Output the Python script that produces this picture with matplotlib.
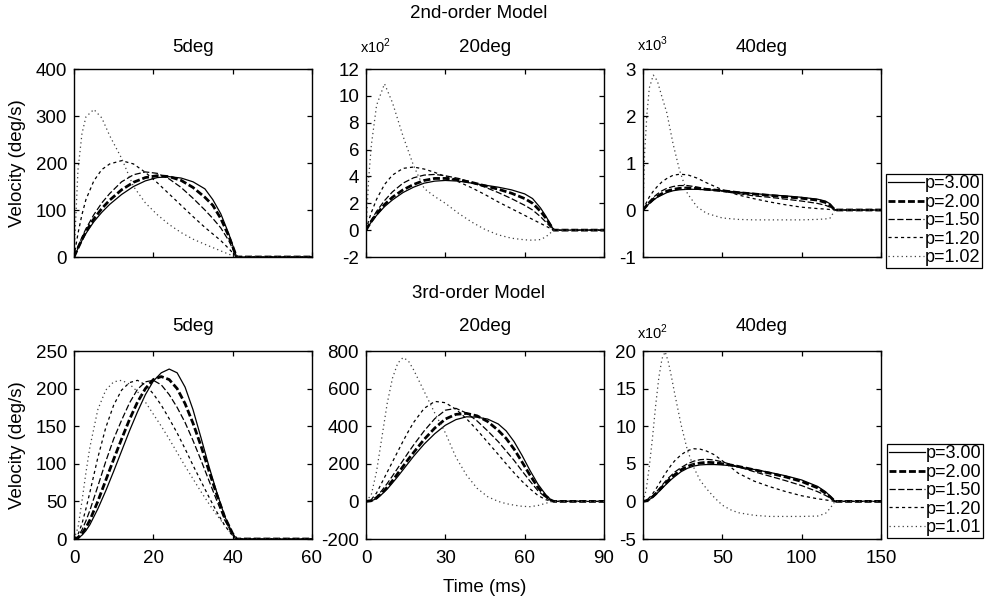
import matplotlib
matplotlib.use('Agg')
import matplotlib.pyplot as plt

plt.rcParams['font.family'] = ['Liberation Sans', 'DejaVu Sans']
plt.rcParams['axes.unicode_minus'] = False

W, H = 986, 605

labels_2nd = ['p=3.00', 'p=2.00', 'p=1.50', 'p=1.20', 'p=1.02']
labels_3rd = ['p=3.00', 'p=2.00', 'p=1.50', 'p=1.20', 'p=1.01']

# 2nd-order, 5deg (deg/s)
t_a = [0, 1, 2, 3, 5, 7, 9, 12, 15, 18, 21, 24, 27, 30, 33, 35, 37, 39, 41, 60]
a_p300 = [0, 18, 35, 50, 75, 95, 112, 133, 150, 162, 169, 171, 168, 160, 145, 122, 92, 50, 0, 0]
a_p200 = [0, 19, 37, 54, 81, 103, 121, 143, 159, 169, 173, 171, 163, 148, 127, 110, 82, 45, 0, 0]
a_p150 = [0, 22, 42, 60, 90, 115, 135, 160, 175, 181, 178, 166, 148, 125, 100, 82, 62, 35, 0, 0]
a_p120 = [0, 50, 90, 122, 162, 186, 198, 205, 198, 180, 158, 134, 110, 86, 63, 49, 35, 18, 0, 0]
a_p102 = [0, 185, 262, 298, 314, 296, 258, 210, 150, 115, 90, 69, 52, 38, 27, 20, 13, 6, 0, 0]

# 2nd-order, 20deg (x10^2 deg/s)
t_b = [0, 1, 2, 4, 7, 10, 14, 18, 22, 26, 30, 35, 40, 45, 50, 55, 60, 63, 66, 68, 71, 90]
b_p300 = [0, 0.32, 0.6, 1.1, 1.75, 2.25, 2.8, 3.2, 3.5, 3.65, 3.7, 3.65, 3.5, 3.35, 3.2, 3.0, 2.7, 2.35, 1.65, 1.05, 0, 0]
b_p200 = [0, 0.34, 0.65, 1.2, 1.9, 2.45, 3.0, 3.4, 3.7, 3.85, 3.85, 3.75, 3.55, 3.3, 3.05, 2.75, 2.35, 2.0, 1.4, 0.9, 0, 0]
b_p150 = [0, 0.4, 0.75, 1.4, 2.2, 2.85, 3.5, 3.9, 4.1, 4.15, 4.05, 3.85, 3.55, 3.2, 2.8, 2.35, 1.85, 1.5, 1.0, 0.6, 0, 0]
b_p120 = [0, 0.7, 1.3, 2.3, 3.4, 4.1, 4.6, 4.7, 4.55, 4.3, 4.0, 3.6, 3.15, 2.65, 2.1, 1.6, 1.1, 0.8, 0.5, 0.3, 0, 0]
b_p102 = [0, 3.8, 6.3, 9.3, 10.9, 9.5, 7.0, 4.8, 3.1, 2.5, 2.0, 1.25, 0.6, 0.05, -0.35, -0.6, -0.72, -0.75, -0.7, -0.5, 0, 0]

# 2nd-order, 40deg (x10^3 deg/s)
t_c = [0, 1, 2.5, 4, 6.5, 9, 12, 15, 19, 23, 28, 34, 40, 50, 60, 70, 80, 90, 100, 110, 115, 118, 121, 150]
c_p300 = [0, 0.04, 0.09, 0.14, 0.21, 0.27, 0.32, 0.37, 0.41, 0.43, 0.44, 0.44, 0.43, 0.41, 0.38, 0.35, 0.32, 0.3, 0.27, 0.23, 0.19, 0.13, 0, 0]
c_p200 = [0, 0.04, 0.1, 0.15, 0.23, 0.29, 0.35, 0.4, 0.44, 0.46, 0.47, 0.46, 0.44, 0.41, 0.37, 0.34, 0.31, 0.28, 0.25, 0.21, 0.16, 0.1, 0, 0]
c_p150 = [0, 0.05, 0.12, 0.18, 0.27, 0.34, 0.41, 0.46, 0.5, 0.52, 0.52, 0.49, 0.45, 0.4, 0.35, 0.3, 0.27, 0.23, 0.19, 0.14, 0.1, 0.06, 0, 0]
c_p120 = [0, 0.08, 0.18, 0.28, 0.4, 0.5, 0.6, 0.67, 0.74, 0.76, 0.75, 0.68, 0.58, 0.43, 0.32, 0.24, 0.17, 0.11, 0.06, 0.03, 0.02, 0.01, 0, 0]
c_p102 = [0, 1.2, 2.05, 2.6, 2.87, 2.75, 2.4, 2.07, 1.4, 0.85, 0.35, 0.07, -0.07, -0.17, -0.2, -0.21, -0.21, -0.21, -0.21, -0.2, -0.19, -0.17, 0, 0]

# 3rd-order, 5deg (deg/s)
t_d = [0, 1, 2, 3, 4, 6, 8, 10, 12, 14, 16, 18, 20, 22, 24, 26, 28, 30, 32, 34, 36, 38, 40, 41, 60]
d_p300 = [0, 1, 5, 11, 19, 40, 64, 90, 117, 144, 169, 192, 210, 221, 226, 221, 202, 172, 135, 97, 62, 30, 7, 0, 0]
d_p200 = [0, 1.5, 7, 15, 25, 50, 78, 106, 133, 159, 182, 200, 212, 216, 212, 200, 180, 154, 124, 91, 59, 29, 7, 0, 0]
d_p150 = [0, 3, 12, 24, 38, 70, 103, 133, 158, 181, 199, 209, 211, 205, 192, 175, 155, 131, 105, 78, 51, 25, 6, 0, 0]
d_p120 = [0, 6, 20, 40, 62, 108, 148, 178, 198, 208, 211, 205, 193, 178, 160, 141, 120, 98, 77, 56, 36, 18, 4, 0, 0]
d_p101 = [0, 15, 50, 88, 122, 172, 198, 209, 211, 206, 196, 182, 166, 150, 133, 115, 97, 80, 63, 47, 32, 18, 5, 0, 0]

# 3rd-order, 20deg (deg/s)
t_e = [0, 2, 4, 6, 8, 10, 12, 14, 16, 18, 22, 26, 30, 34, 38, 42, 46, 50, 53, 56, 59, 62, 65, 68, 70, 71, 90]
e_p300 = [0, 3, 15, 38, 65, 98, 132, 168, 204, 240, 305, 360, 405, 435, 450, 448, 438, 412, 375, 318, 245, 165, 92, 35, 8, 0, 0]
e_p200 = [0, 4, 18, 44, 75, 110, 148, 186, 224, 260, 330, 390, 438, 463, 468, 455, 425, 378, 335, 278, 210, 140, 75, 27, 6, 0, 0]
e_p150 = [0, 6, 25, 58, 95, 135, 177, 218, 260, 300, 375, 440, 485, 495, 470, 428, 375, 318, 268, 218, 162, 108, 57, 20, 4, 0, 0]
e_p120 = [0, 10, 45, 100, 155, 210, 265, 320, 372, 420, 495, 532, 525, 490, 440, 380, 315, 250, 200, 152, 107, 67, 32, 9, 2, 0, 0]
e_p101 = [0, 35, 160, 340, 520, 655, 735, 765, 748, 700, 585, 470, 365, 235, 140, 70, 25, 0, -12, -20, -26, -28, -22, -10, -2, 0, 0]

# 3rd-order, 40deg (x10^2 deg/s)
t_f = [0, 2, 4, 6, 8, 10, 12, 14, 16, 18, 20, 24, 28, 32, 36, 40, 45, 50, 55, 60, 70, 80, 90, 100, 110, 115, 118, 121, 150]
f_p300 = [0, 0.06, 0.25, 0.52, 0.88, 1.3, 1.72, 2.15, 2.55, 2.95, 3.3, 3.95, 4.4, 4.7, 4.85, 4.9, 4.9, 4.85, 4.75, 4.6, 4.25, 3.85, 3.4, 2.85, 2.0, 1.3, 0.7, 0, 0]
f_p200 = [0, 0.08, 0.3, 0.6, 1.0, 1.45, 1.9, 2.35, 2.8, 3.2, 3.55, 4.2, 4.65, 4.95, 5.1, 5.2, 5.15, 5.0, 4.85, 4.65, 4.2, 3.75, 3.25, 2.65, 1.8, 1.1, 0.6, 0, 0]
f_p150 = [0, 0.1, 0.35, 0.7, 1.15, 1.65, 2.15, 2.65, 3.1, 3.5, 3.9, 4.5, 5.0, 5.35, 5.55, 5.6, 5.5, 5.25, 4.95, 4.6, 3.95, 3.35, 2.75, 2.1, 1.3, 0.8, 0.45, 0, 0]
f_p120 = [0, 0.15, 0.5, 1.0, 1.6, 2.3, 3.0, 3.7, 4.3, 4.9, 5.4, 6.2, 6.75, 7.0, 6.95, 6.7, 6.2, 5.4, 4.6, 3.75, 2.7, 1.95, 1.3, 0.75, 0.35, 0.2, 0.1, 0, 0]
f_p101 = [0, 1.5, 4.7, 8.5, 12.8, 16.5, 19.0, 19.9, 18.5, 16.5, 14.3, 10.2, 6.8, 4.5, 2.8, 1.7, 0.5, -0.5, -1.1, -1.5, -1.85, -2.0, -2.0, -2.0, -1.95, -1.6, -0.9, 0, 0]

styles = [
    dict(color='k', lw=0.9, ls='-'),
    dict(color='k', lw=2.0, ls=(0, (2.5, 1.0))),
    dict(color='k', lw=0.9, ls=(0, (5, 2))),
    dict(color='k', lw=0.9, ls=(0, (2.5, 2.5))),
    dict(color='0.25', lw=0.9, ls=(0, (1, 2.5))),
]

FS = 13.5


def fx(x):
    return x / W


def fy(y):
    return 1 - y / H


def panel(x0, y0, t, curves, labels, xlim, xticks, ylim, yticks, show_x):
    ax = fig.add_axes([fx(x0), fy(y0 + 188), fx(238), 188 / H])
    lines = []
    for v, st, lab in zip(curves, styles, labels):
        ln, = ax.plot(t, v, label=lab, **st)
        lines.append(ln)
    ax.set_xlim(*xlim)
    ax.set_ylim(*ylim)
    ax.set_xticks(xticks)
    ax.set_yticks(yticks)
    ax.tick_params(direction='in', top=True, right=True, length=3.8, width=0.9,
                   labelsize=FS)
    ax.tick_params(axis='y', pad=5)
    ax.tick_params(axis='x', pad=8)
    if not show_x:
        ax.set_xticklabels([])
    for s in ax.spines.values():
        s.set_linewidth(1.0)
    return ax, lines


fig = plt.figure(figsize=(W / 100, H / 100), dpi=100)

cols = [74, 366, 643]
rows = [69, 351]

panel(cols[0], rows[0], t_a, [a_p300, a_p200, a_p150, a_p120, a_p102], labels_2nd,
      (0, 60), [0, 20, 40, 60], (0, 400), range(0, 401, 100), False)
panel(cols[1], rows[0], t_b, [b_p300, b_p200, b_p150, b_p120, b_p102], labels_2nd,
      (0, 90), [0, 30, 60, 90], (-2, 12), range(-2, 13, 2), False)
ax_c, lines_top = panel(cols[2], rows[0], t_c, [c_p300, c_p200, c_p150, c_p120, c_p102], labels_2nd,
                        (0, 150), [0, 50, 100, 150], (-1, 3), range(-1, 4), False)
panel(cols[0], rows[1], t_d, [d_p300, d_p200, d_p150, d_p120, d_p101], labels_3rd,
      (0, 60), [0, 20, 40, 60], (0, 250), range(0, 251, 50), True)
panel(cols[1], rows[1], t_e, [e_p300, e_p200, e_p150, e_p120, e_p101], labels_3rd,
      (0, 90), [0, 30, 60, 90], (-200, 800), range(-200, 801, 200), True)
ax_f, lines_bot = panel(cols[2], rows[1], t_f, [f_p300, f_p200, f_p150, f_p120, f_p101], labels_3rd,
                        (0, 150), [0, 50, 100, 150], (-5, 20), range(-5, 21, 5), True)

leg_kw = dict(fontsize=13, labelspacing=0.08, handlelength=2.0, handletextpad=0.05,
              borderpad=0.1, borderaxespad=0, fancybox=False, edgecolor='k',
              framealpha=1, loc='lower left', bbox_transform=fig.transFigure)
lg1 = fig.legend(handles=lines_top, bbox_to_anchor=(fx(886), fy(268)), **leg_kw)
lg2 = fig.legend(handles=lines_bot, bbox_to_anchor=(fx(887), fy(538)), **leg_kw)
for lg in (lg1, lg2):
    lg.get_frame().set_linewidth(0.9)

# titles
fig.text(fx(479), fy(13), '2nd-order Model', ha='center', va='center', fontsize=FS)
fig.text(fx(479), fy(294), '3rd-order Model', ha='center', va='center', fontsize=FS)
for c, name in zip(cols, ['5deg', '20deg', '40deg']):
    fig.text(fx(c + 119), fy(47), name, ha='center', va='center', fontsize=FS)
    fig.text(fx(c + 119), fy(326), name, ha='center', va='center', fontsize=FS)

fig.text(fx(360), fy(46), 'x10$^\\mathregular{2}$', ha='left', va='center', fontsize=10.5)
fig.text(fx(637), fy(44), 'x10$^\\mathregular{3}$', ha='left', va='center', fontsize=10.5)
fig.text(fx(637), fy(332), 'x10$^\\mathregular{2}$', ha='left', va='center', fontsize=10.5)

fig.text(fx(18), fy(163), 'Velocity (deg/s)', rotation=90, ha='center', va='center', fontsize=FS)
fig.text(fx(18), fy(445), 'Velocity (deg/s)', rotation=90, ha='center', va='center', fontsize=FS)
fig.text(fx(485), fy(587), 'Time (ms)', ha='center', va='center', fontsize=FS)

fig.savefig('out.png', dpi=100)
